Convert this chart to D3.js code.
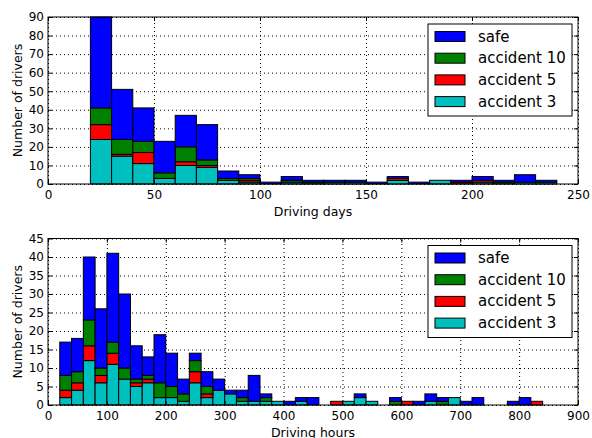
<!DOCTYPE html>
<html>
	<head>
		<title>Drivers histogram</title>
		<meta http-equiv='Content-Type' content='text/html;charset=utf-8'/>
		<style>
		body {
			margin: 0;
			background: #ffffff;
			font-family: 'DejaVu Sans', sans-serif;
		}
		.tick text {
			font-family: 'DejaVu Sans', sans-serif;
			font-size: 12px;
			fill: #000000;
		}
		.grid line {
			stroke: #000000;
			stroke-width: 1px;
			stroke-dasharray: 1,3;
		}
		.grid path, .frame path {
			display: none;
		}
		.frame line {
			stroke: #000000;
			stroke-width: 1px;
		}
		.bar {
			stroke: #000000;
			stroke-width: 1px;
		}
		</style>
	</head>

	<body>
	<script src='https://d3js.org/d3.v7.min.js'></script>

	<script>
	'use strict';

	// legend order, top to bottom
	const seriesNames = ['safe', 'accident 10', 'accident 5', 'accident 3'];
	const seriesColors = ['#0000ff', '#008000', '#ff0000', '#00bfbf'];

	// driving days histogram (bin start, width 10)
	const dayBins = [20, 30, 40, 50, 60, 70, 80, 90, 100, 110, 120, 130, 140, 150, 160, 170, 180, 190, 200, 210, 220, 230];
	const daySafe  = [49, 27, 18, 17, 17, 19, 4, 2, 1, 2, 1, 1, 1, 1, 1, 1, 0, 1, 2, 1, 4, 1];
	const dayAcc10 = [9, 8, 6, 3, 8, 3, 1, 1, 0, 1, 1, 0, 0, 0, 0, 0, 0, 0, 0, 1, 0, 0];
	const dayAcc5  = [8, 1, 6, 0, 2, 1, 0, 1, 0, 0, 0, 0, 0, 0, 1, 0, 0, 1, 1, 0, 0, 0];
	const dayAcc3  = [24, 15, 11, 3, 10, 9, 2, 1, 0, 1, 0, 1, 1, 0, 2, 0, 2, 0, 1, 0, 1, 1];
	const dayXTicks = [0, 50, 100, 150, 200, 250];
	const dayYTicks = [0, 10, 20, 30, 40, 50, 60, 70, 80, 90];

	// driving hours histogram (bin start, width 20)
	const hourBins = [20, 40, 60, 80, 100, 120, 140, 160, 180, 200, 220, 240, 260, 280, 300, 320, 340, 360, 380, 400,
		420, 440, 460, 480, 500, 520, 540, 560, 580, 600, 620, 640, 660, 680, 700, 720, 740, 760, 780, 800, 820];
	const hourSafe  = [9, 9, 17, 16, 24, 20, 9, 5, 13, 9, 4, 2, 4, 3, 1, 2, 7, 1, 0, 1,
		1, 2, 0, 0, 0, 1, 0, 0, 1, 0, 1, 2, 1, 0, 1, 2, 0, 0, 1, 2, 0];
	const hourAcc10 = [4, 3, 7, 2, 3, 3, 1, 1, 4, 3, 2, 3, 2, 0, 0, 1, 0, 1, 0, 0,
		0, 0, 0, 0, 0, 0, 0, 0, 1, 0, 0, 0, 1, 0, 0, 0, 0, 0, 0, 0, 0];
	const hourAcc5  = [2, 2, 4, 2, 3, 0, 1, 1, 0, 0, 0, 3, 1, 0, 0, 0, 0, 0, 0, 0,
		0, 0, 0, 1, 0, 0, 0, 0, 0, 1, 0, 0, 0, 0, 0, 0, 0, 0, 0, 0, 1];
	const hourAcc3  = [2, 4, 12, 6, 11, 7, 5, 6, 2, 2, 1, 6, 2, 4, 3, 1, 1, 1, 1, 0,
		1, 0, 0, 0, 1, 2, 1, 0, 0, 0, 0, 1, 0, 2, 0, 0, 0, 0, 0, 0, 0];
	const hourXTicks = [0, 100, 200, 300, 400, 500, 600, 700, 800, 900];
	const hourYTicks = [0, 5, 10, 15, 20, 25, 30, 35, 40, 45];

	const W = 592, H = 438;
	const left = 48, right = 578;

	const svg = d3.select('body').append('svg')
		.attr('width', W)
		.attr('height', H);

	drawPanel({
		top: 17, bottom: 184,
		bins: dayBins, binWidth: 10,
		safe: daySafe, acc10: dayAcc10, acc5: dayAcc5, acc3: dayAcc3,
		xTicks: dayXTicks, yTicks: dayYTicks,
		xLabel: 'Driving days'
	});

	drawPanel({
		top: 238.5, bottom: 405,
		bins: hourBins, binWidth: 20,
		safe: hourSafe, acc10: hourAcc10, acc5: hourAcc5, acc3: hourAcc3,
		xTicks: hourXTicks, yTicks: hourYTicks,
		xLabel: 'Driving hours'
	});

	function drawPanel (p) {
		const x = d3.scaleLinear()
			.domain([p.xTicks[0], p.xTicks[p.xTicks.length - 1]])
			.range([left, right]);
		const y = d3.scaleLinear()
			.domain([p.yTicks[0], p.yTicks[p.yTicks.length - 1]])
			.range([p.bottom, p.top]);
		const h = p.bottom - p.top;

		const g = svg.append('g');

		// dotted grid under the bars
		g.append('g')
			.attr('class', 'grid')
			.attr('transform', 'translate(0,' + p.bottom + ')')
			.call(d3.axisBottom(x).tickValues(p.xTicks).tickSize(-h).tickFormat(''));
		g.append('g')
			.attr('class', 'grid')
			.attr('transform', 'translate(' + left + ',0)')
			.call(d3.axisLeft(y).tickValues(p.yTicks).tickSize(-(right - left)).tickFormat(''));

		// stacked bars, accident 3 at the bottom
		const rows = p.bins.map(function(b, i) {
			return {bin: b, acc3: p.acc3[i], acc5: p.acc5[i], acc10: p.acc10[i], safe: p.safe[i]};
		});
		const keys = ['acc3', 'acc5', 'acc10', 'safe'];
		const colors = [seriesColors[3], seriesColors[2], seriesColors[1], seriesColors[0]];
		const stacked = d3.stack().keys(keys)(rows);

		stacked.forEach(function(layer, k) {
			g.append('g')
				.selectAll('rect')
				.data(layer.filter(function(d) { return d[1] > d[0]; }))
				.enter()
				.append('rect')
				.attr('class', 'bar')
				.attr('fill', colors[k])
				.attr('x', function(d) { return x(d.data.bin); })
				.attr('width', function(d) { return x(d.data.bin + p.binWidth) - x(d.data.bin); })
				.attr('y', function(d) { return y(d[1]); })
				.attr('height', function(d) { return y(d[0]) - y(d[1]); });
		});

		// axes with inward ticks on all four sides
		g.append('g')
			.attr('class', 'frame')
			.attr('transform', 'translate(0,' + p.bottom + ')')
			.call(d3.axisBottom(x).tickValues(p.xTicks).tickSize(-4).tickPadding(6));
		g.append('g')
			.attr('class', 'frame')
			.attr('transform', 'translate(0,' + p.top + ')')
			.call(d3.axisTop(x).tickValues(p.xTicks).tickSize(-4).tickFormat(''));
		g.append('g')
			.attr('class', 'frame')
			.attr('transform', 'translate(' + left + ',0)')
			.call(d3.axisLeft(y).tickValues(p.yTicks).tickSize(-4).tickPadding(4));
		g.append('g')
			.attr('class', 'frame')
			.attr('transform', 'translate(' + right + ',0)')
			.call(d3.axisRight(y).tickValues(p.yTicks).tickSize(-4).tickFormat(''));

		// box
		g.append('rect')
			.attr('x', left)
			.attr('y', p.top)
			.attr('width', right - left)
			.attr('height', h)
			.attr('fill', 'none')
			.attr('stroke', '#000000')
			.attr('stroke-width', 1);

		// axis labels
		g.append('text')
			.attr('x', (left + right) / 2)
			.attr('y', p.bottom + 31.5)
			.attr('text-anchor', 'middle')
			.attr('font-size', '12.5px')
			.text(p.xLabel);
		g.append('text')
			.attr('transform', 'translate(17,' + (p.top + h / 2) + ') rotate(-90)')
			.attr('text-anchor', 'middle')
			.attr('dominant-baseline', 'central')
			.attr('font-size', '12.5px')
			.text('Number of drivers');

		// legend
		const lg = g.append('g')
			.attr('transform', 'translate(428,' + (p.top + 7) + ')');
		lg.append('rect')
			.attr('width', 144)
			.attr('height', 92)
			.attr('fill', '#ffffff')
			.attr('stroke', '#000000')
			.attr('stroke-width', 1);
		seriesNames.forEach(function(name, i) {
			const cy = 12.5 + i * 21.7;
			lg.append('rect')
				.attr('x', 7)
				.attr('y', cy - 5)
				.attr('width', 30)
				.attr('height', 10)
				.attr('fill', seriesColors[i])
				.attr('stroke', '#000000')
				.attr('stroke-width', 1);
			lg.append('text')
				.attr('x', 50)
				.attr('y', cy)
				.attr('dominant-baseline', 'central')
				.attr('font-size', '15px')
				.text(name);
		});
	}
	</script>
</body>
</html>
